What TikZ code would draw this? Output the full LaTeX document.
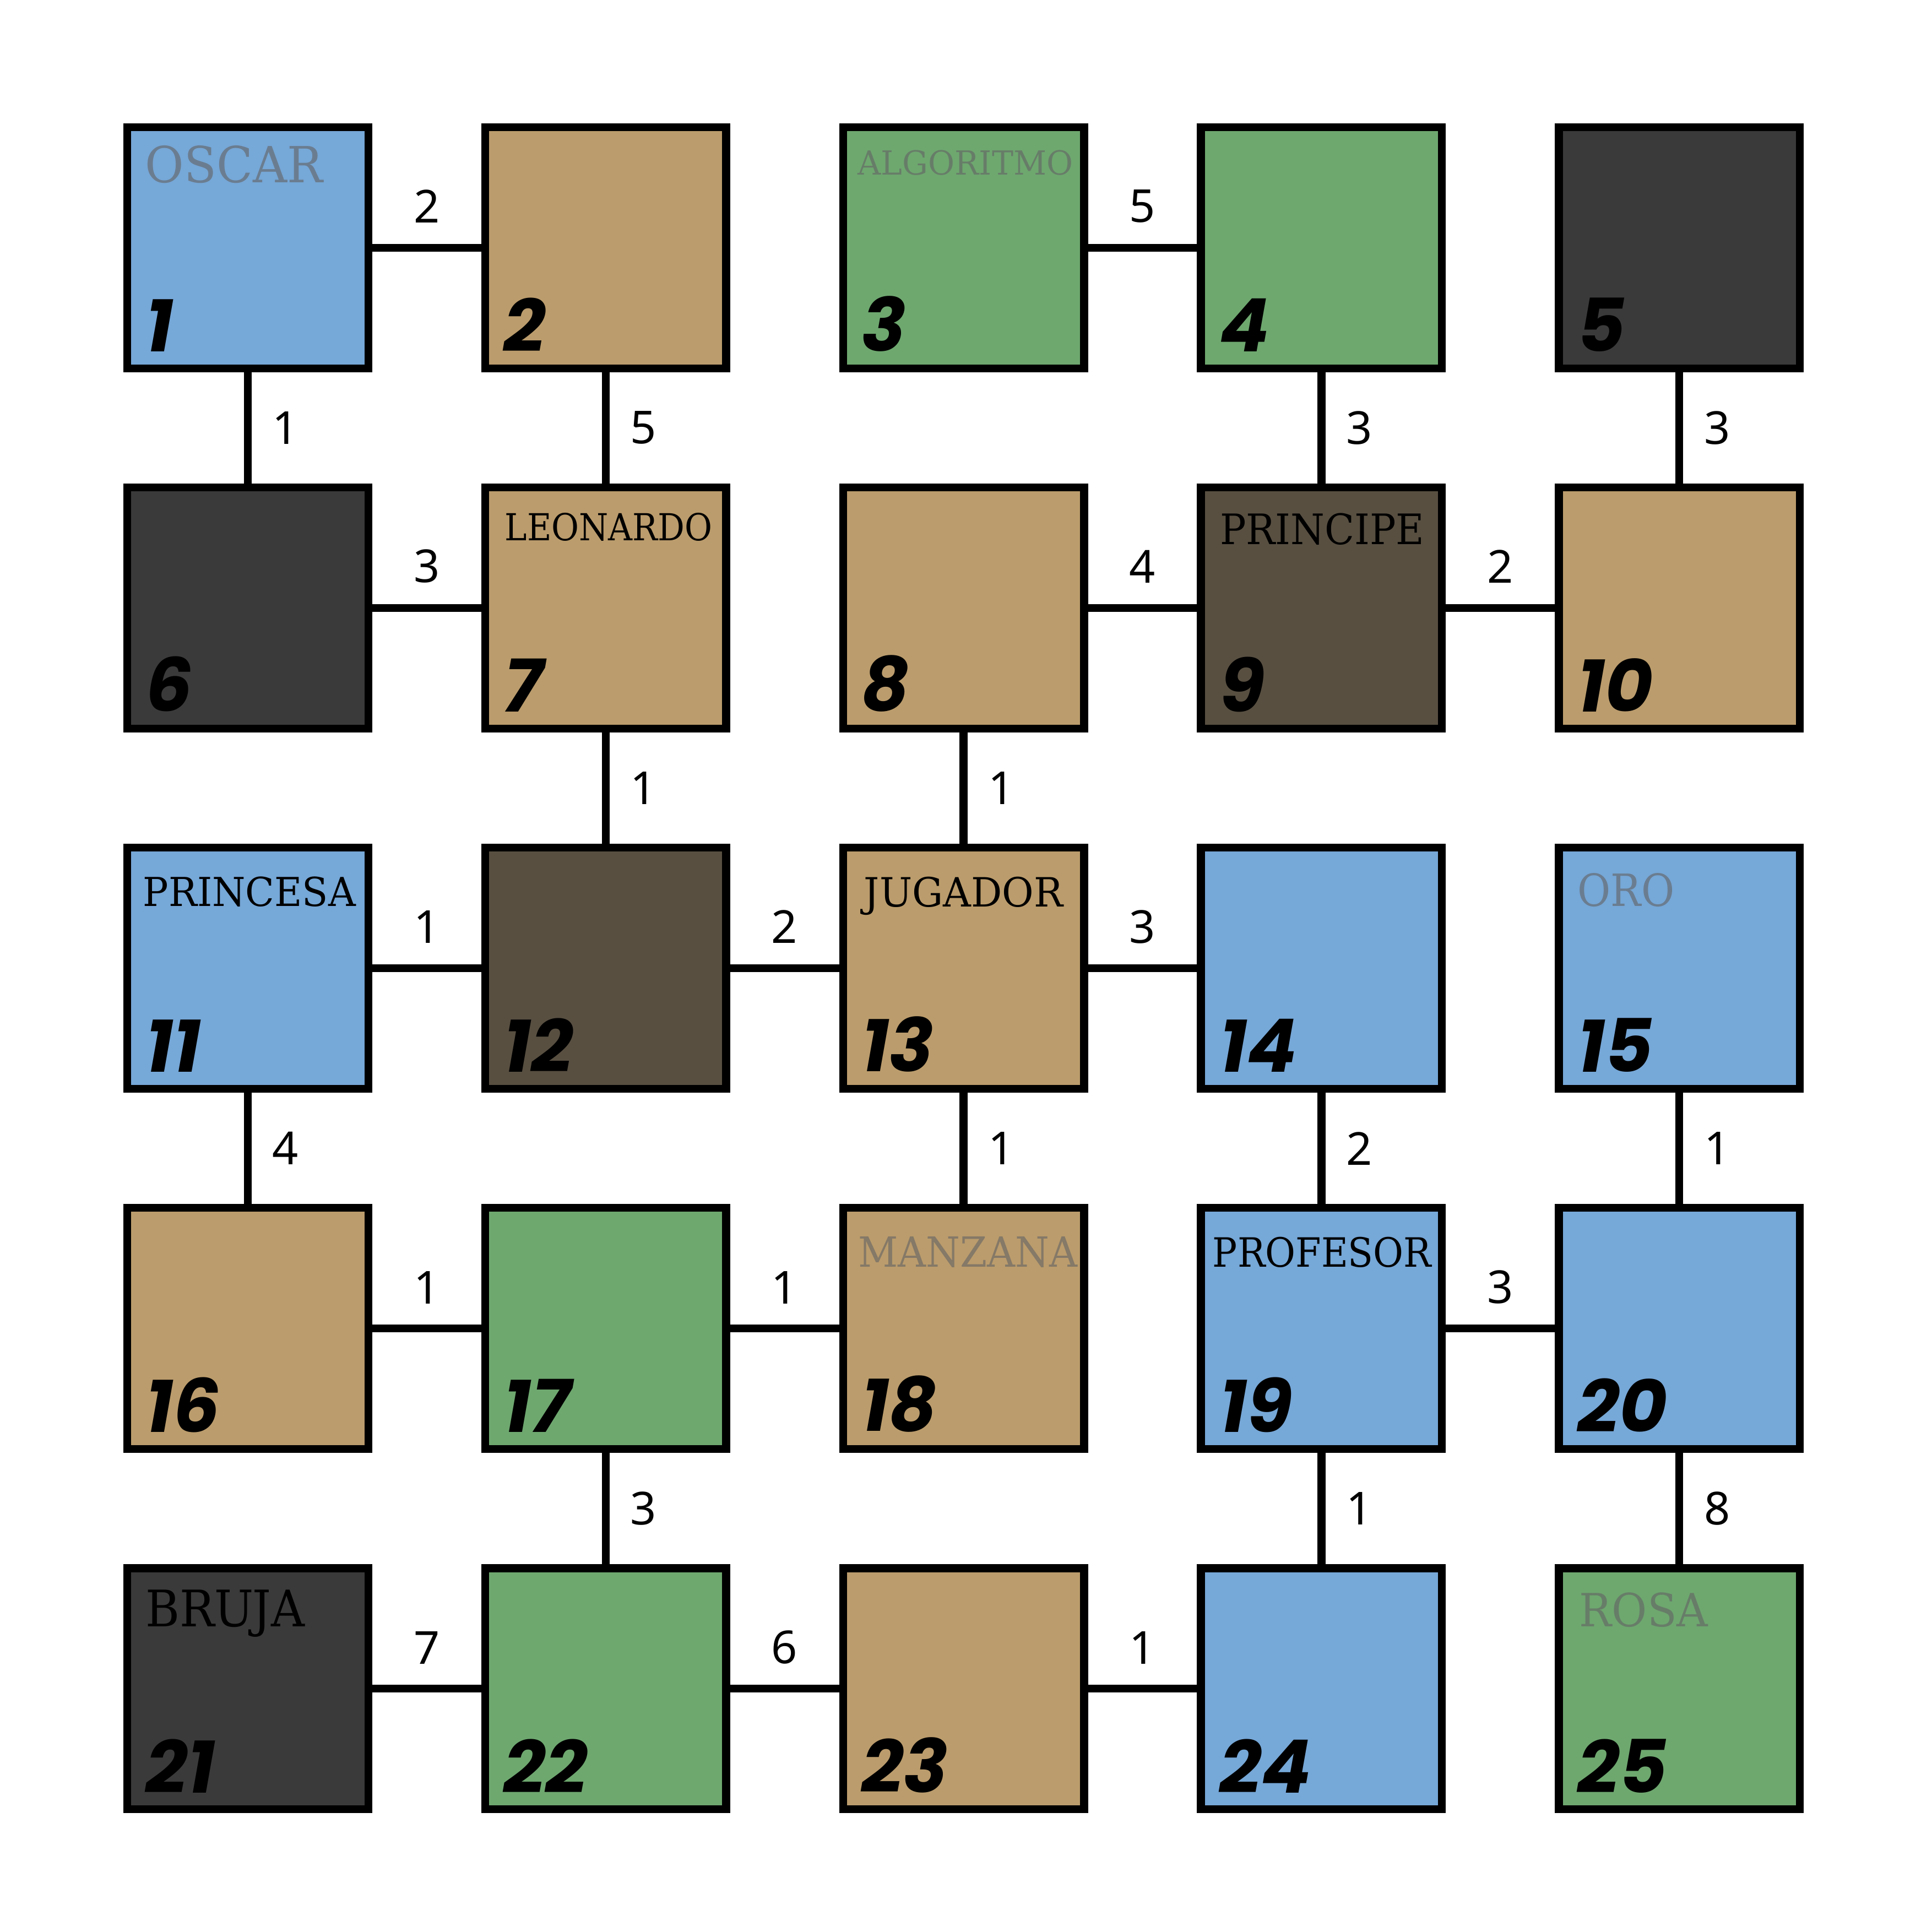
\documentclass[tikz,border=0pt]{standalone}
\usepackage{fontspec}
\usepackage{graphicx}
\setmainfont{Noto Sans}
\newfontfamily\slabfont{DejaVu Serif}
\newfontfamily\numfont{Poppins}

\definecolor{tileblue}{RGB}{118,168,216}
\definecolor{tiletan}{RGB}{187,156,108}
\definecolor{tilegreen}{RGB}{110,168,111}
\definecolor{tiledark}{RGB}{58,58,58}
\definecolor{tilebrown}{RGB}{88,79,65}
\definecolor{wordgray}{RGB}{100,100,100}

% word squeezed to the size it has in the board
\newcommand{\fitword}[3]{\resizebox{#1cm}{#2cm}{\slabfont #3}}

\begin{document}
\begin{tikzpicture}[
        tile/.style={rectangle, draw, line width=1.8pt, minimum size=1.957cm, inner sep=0pt},
        link/.style={line width=1.8pt},
        wt/.style={font=\fontsize{10.5}{10.5}\selectfont, inner sep=0pt},
        num/.style={font=\numfont\bfseries\itshape\fontsize{17}{17}\selectfont, anchor=south west, inner sep=0pt},
        word/.style={anchor=north west, inner sep=0pt},
        faded/.style={text=wordgray, text opacity=0.62}
    ]
    \useasboundingbox (0,0) rectangle (15.68,-15.68);

    % board
    \node[tile, fill=tileblue]  (t1)  at (2.01,-2.01) {};
    \node[tile, fill=tiletan]   (t2)  at (4.915,-2.01) {};
    \node[tile, fill=tilegreen] (t3)  at (7.82,-2.01) {};
    \node[tile, fill=tilegreen] (t4)  at (10.725,-2.01) {};
    \node[tile, fill=tiledark]  (t5)  at (13.63,-2.01) {};

    \node[tile, fill=tiledark]  (t6)  at (2.01,-4.934) {};
    \node[tile, fill=tiletan]   (t7)  at (4.915,-4.934) {};
    \node[tile, fill=tiletan]   (t8)  at (7.82,-4.934) {};
    \node[tile, fill=tilebrown] (t9)  at (10.725,-4.934) {};
    \node[tile, fill=tiletan]   (t10) at (13.63,-4.934) {};

    \node[tile, fill=tileblue]  (t11) at (2.01,-7.858) {};
    \node[tile, fill=tilebrown] (t12) at (4.915,-7.858) {};
    \node[tile, fill=tiletan]   (t13) at (7.82,-7.858) {};
    \node[tile, fill=tileblue]  (t14) at (10.725,-7.858) {};
    \node[tile, fill=tileblue]  (t15) at (13.63,-7.858) {};

    \node[tile, fill=tiletan]   (t16) at (2.01,-10.782) {};
    \node[tile, fill=tilegreen] (t17) at (4.915,-10.782) {};
    \node[tile, fill=tiletan]   (t18) at (7.82,-10.782) {};
    \node[tile, fill=tileblue]  (t19) at (10.725,-10.782) {};
    \node[tile, fill=tileblue]  (t20) at (13.63,-10.782) {};

    \node[tile, fill=tiledark]  (t21) at (2.01,-13.706) {};
    \node[tile, fill=tilegreen] (t22) at (4.915,-13.706) {};
    \node[tile, fill=tiletan]   (t23) at (7.82,-13.706) {};
    \node[tile, fill=tileblue]  (t24) at (10.725,-13.706) {};
    \node[tile, fill=tilegreen] (t25) at (13.63,-13.706) {};

    % words
    \node[word, faded] (w1)  at ([shift={(0.173,-0.173)}]t1.north west)  {\fitword{1.44}{0.30}{OSCAR}};
    \node[word, faded] (w3)  at ([shift={(0.145,-0.214)}]t3.north west)  {\fitword{1.746}{0.20}{ALGORITMO}};
    \node[word]        (w7)  at ([shift={(0.185,-0.233)}]t7.north west)  {\fitword{1.684}{0.224}{LEONARDO}};
    \node[word]        (w9)  at ([shift={(0.179,-0.234)}]t9.north west)  {\fitword{1.66}{0.253}{PRINCIPE}};
    \node[word]        (w11) at ([shift={(0.154,-0.26)}]t11.north west)  {\fitword{1.726}{0.24}{PRINCESA}};
    \node[word]        (w13) at ([shift={(0.196,-0.26)}]t13.north west)  {\fitword{1.614}{0.243}{JUGADOR}};
    \node[word, faded] (w15) at ([shift={(0.177,-0.234)}]t15.north west) {\fitword{0.785}{0.268}{ORO}};
    \node[word, faded] (w18) at ([shift={(0.149,-0.257)}]t18.north west) {\fitword{1.78}{0.246}{MANZANA}};
    \node[word]        (w19) at ([shift={(0.12,-0.259)}]t19.north west)  {\fitword{1.776}{0.243}{PROFESOR}};
    \node[word]        (w21) at ([shift={(0.174,-0.201)}]t21.north west) {\fitword{1.292}{0.298}{BRUJA}};
    \node[word, faded] (w25) at ([shift={(0.192,-0.223)}]t25.north west) {\fitword{1.043}{0.276}{ROSA}};

    % numbers
    \node[num] (n1)  at ([shift={(0.175,0.16)}]t1.south west)  {1};
    \node[num] (n2)  at ([shift={(0.175,0.16)}]t2.south west)  {2};
    \node[num] (n3)  at ([shift={(0.175,0.16)}]t3.south west)  {3};
    \node[num] (n4)  at ([shift={(0.175,0.16)}]t4.south west)  {4};
    \node[num] (n5)  at ([shift={(0.175,0.16)}]t5.south west)  {5};
    \node[num] (n6)  at ([shift={(0.175,0.16)}]t6.south west)  {6};
    \node[num] (n7)  at ([shift={(0.175,0.16)}]t7.south west)  {7};
    \node[num] (n8)  at ([shift={(0.175,0.16)}]t8.south west)  {8};
    \node[num] (n9)  at ([shift={(0.175,0.16)}]t9.south west)  {9};
    \node[num] (n10) at ([shift={(0.175,0.16)}]t10.south west) {10};
    \node[num] (n11) at ([shift={(0.175,0.16)}]t11.south west) {11};
    \node[num] (n12) at ([shift={(0.175,0.16)}]t12.south west) {12};
    \node[num] (n13) at ([shift={(0.175,0.16)}]t13.south west) {13};
    \node[num] (n14) at ([shift={(0.175,0.16)}]t14.south west) {14};
    \node[num] (n15) at ([shift={(0.175,0.16)}]t15.south west) {15};
    \node[num] (n16) at ([shift={(0.175,0.16)}]t16.south west) {16};
    \node[num] (n17) at ([shift={(0.175,0.16)}]t17.south west) {17};
    \node[num] (n18) at ([shift={(0.175,0.16)}]t18.south west) {18};
    \node[num] (n19) at ([shift={(0.175,0.16)}]t19.south west) {19};
    \node[num] (n20) at ([shift={(0.175,0.16)}]t20.south west) {20};
    \node[num] (n21) at ([shift={(0.175,0.16)}]t21.south west) {21};
    \node[num] (n22) at ([shift={(0.175,0.16)}]t22.south west) {22};
    \node[num] (n23) at ([shift={(0.175,0.16)}]t23.south west) {23};
    \node[num] (n24) at ([shift={(0.175,0.16)}]t24.south west) {24};
    \node[num] (n25) at ([shift={(0.175,0.16)}]t25.south west) {25};

    % weighted links
    \draw[link] (t1) -- node[wt, above=0.17cm] (e1-2) {2} (t2);
    \draw[link] (t3) -- node[wt, above=0.17cm] (e3-4) {5} (t4);
    \draw[link] (t1) -- node[wt, right=0.17cm] (e1-6) {1} (t6);
    \draw[link] (t2) -- node[wt, right=0.17cm] (e2-7) {5} (t7);
    \draw[link] (t4) -- node[wt, right=0.17cm] (e4-9) {3} (t9);
    \draw[link] (t5) -- node[wt, right=0.17cm] (e5-10) {3} (t10);

    \draw[link] (t6) -- node[wt, above=0.17cm] (e6-7) {3} (t7);
    \draw[link] (t8) -- node[wt, above=0.17cm] (e8-9) {4} (t9);
    \draw[link] (t9) -- node[wt, above=0.17cm] (e9-10) {2} (t10);
    \draw[link] (t7) -- node[wt, right=0.17cm] (e7-12) {1} (t12);
    \draw[link] (t8) -- node[wt, right=0.17cm] (e8-13) {1} (t13);

    \draw[link] (t11) -- node[wt, above=0.17cm] (e11-12) {1} (t12);
    \draw[link] (t12) -- node[wt, above=0.17cm] (e12-13) {2} (t13);
    \draw[link] (t13) -- node[wt, above=0.17cm] (e13-14) {3} (t14);
    \draw[link] (t11) -- node[wt, right=0.17cm] (e11-16) {4} (t16);
    \draw[link] (t13) -- node[wt, right=0.17cm] (e13-18) {1} (t18);
    \draw[link] (t14) -- node[wt, right=0.17cm] (e14-19) {2} (t19);
    \draw[link] (t15) -- node[wt, right=0.17cm] (e15-20) {1} (t20);

    \draw[link] (t16) -- node[wt, above=0.17cm] (e16-17) {1} (t17);
    \draw[link] (t17) -- node[wt, above=0.17cm] (e17-18) {1} (t18);
    \draw[link] (t19) -- node[wt, above=0.17cm] (e19-20) {3} (t20);
    \draw[link] (t17) -- node[wt, right=0.17cm] (e17-22) {3} (t22);
    \draw[link] (t19) -- node[wt, right=0.17cm] (e19-24) {1} (t24);
    \draw[link] (t20) -- node[wt, right=0.17cm] (e20-25) {8} (t25);

    \draw[link] (t21) -- node[wt, above=0.17cm] (e21-22) {7} (t22);
    \draw[link] (t22) -- node[wt, above=0.17cm] (e22-23) {6} (t23);
    \draw[link] (t23) -- node[wt, above=0.17cm] (e23-24) {1} (t24);
\end{tikzpicture}
\end{document}
